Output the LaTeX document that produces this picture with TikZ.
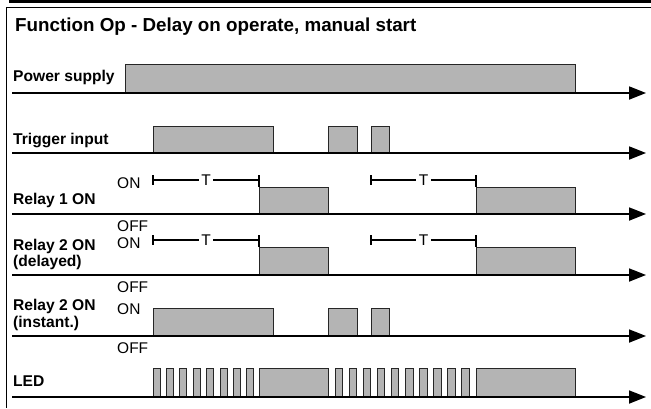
\documentclass[tikz,border=0pt]{standalone}
\usepackage{fontspec}
\setmainfont{Liberation Sans}
\usetikzlibrary{arrows.meta}
\definecolor{sigfill}{RGB}{180,180,180}

\begin{document}
\begin{tikzpicture}[x=1pt, y=-1pt, >={Stealth[length=17pt,width=13pt,inset=0pt]},
    lbl/.style={anchor=base west, inner sep=0pt, font=\fontsize{15.6}{18}\selectfont\bfseries},
    state/.style={anchor=west, inner sep=0pt, font=\fontsize{15.5}{18}\selectfont},
    tlbl/.style={inner sep=2.5pt, font=\fontsize{15.5}{18}\selectfont},
    pulse/.style={draw=black!85, line width=1pt, fill=sigfill},
    axis/.style={line width=1.8pt, ->}]
                \useasboundingbox (0,0) rectangle (651,408);

                % Define the coordinates
                \coordinate (PS0) at (12,93);  \coordinate (PS1) at (646,93);
                \coordinate (TI0) at (12,153); \coordinate (TI1) at (646,153);
                \coordinate (RA0) at (12,214); \coordinate (RA1) at (646,214);
                \coordinate (RB0) at (12,275); \coordinate (RB1) at (646,275);
                \coordinate (RC0) at (12,336); \coordinate (RC1) at (646,336);
                \coordinate (LD0) at (12,397); \coordinate (LD1) at (646,397);

                % Draw the frame
                \fill (9,0) rectangle (651,3);
                \draw[line width=1.2pt] (651,7.5) -- (6.5,7.5) -- (6.5,408);

                % Draw the title and the labels
                \node[lbl, font=\fontsize{18.8}{22}\selectfont\bfseries] (title) at (15,31.5)
                {Function Op - Delay on operate, manual start};
                \node[lbl] (ps) at (13,81) {Power supply};
                \node[lbl] (trig) at (13,144) {Trigger input};
                \node[lbl] (relA) at (13,204) {Relay 1 ON};
                \node[lbl] (relB) at (13,250) {Relay 2 ON};
                \node[lbl] (relBd) at (13,266) {(delayed)};
                \node[lbl] (relC) at (13,310) {Relay 2 ON};
                \node[lbl] (relCi) at (13,327) {(instant.)};
                \node[lbl] (led) at (13,386) {LED};

                % Draw the ON / OFF states
                \node[state] (onA) at (117,183) {ON};
                \node[state] (offA) at (117,226) {OFF};
                \node[state] (onB) at (117,243) {ON};
                \node[state] (offB) at (117,287) {OFF};
                \node[state] (onC) at (117,309) {ON};
                \node[state] (offC) at (117,348) {OFF};

                % Draw the signals
                \draw[pulse] (125,93) rectangle (575,64);
                \draw[pulse] (153,153) rectangle (273,126);
                \draw[pulse] (328,153) rectangle (357,126);
                \draw[pulse] (371,153) rectangle (389,126);
                \draw[pulse] (259,214) rectangle (328,187);
                \draw[pulse] (476,214) rectangle (575,187);
                \draw[pulse] (259,275) rectangle (328,247);
                \draw[pulse] (476,275) rectangle (575,247);
                \draw[pulse] (153,336) rectangle (273,308);
                \draw[pulse] (328,336) rectangle (357,308);
                \draw[pulse] (371,336) rectangle (389,308);

                % Draw the LED blinking
                \foreach \i in {0,...,7}
                  \draw[pulse] ({153+13.4*\i},397) rectangle ++(7,-29);
                \draw[pulse] (259,397) rectangle (328,368);
                \foreach \i in {0,...,9}
                  \draw[pulse] ({335+14.1*\i},397) rectangle ++(7.5,-29);
                \draw[pulse] (476,397) rectangle (575,368);

                % Draw the time axes
                \draw[axis] (PS0) -- (PS1);
                \draw[axis] (TI0) -- (TI1);
                \draw[axis] (RA0) -- (RA1);
                \draw[axis] (RB0) -- (RB1);
                \draw[axis] (RC0) -- (RC1);
                \draw[axis] (LD0) -- (LD1);

                % Draw the delay T
                \foreach \xa/\xb/\y/\yb/\n in {153/259/180/187/1, 371/476/180/187/2,
                    153/259/240/247/3, 371/476/240/247/4} {
                  \node[tlbl] (T\n) at ({(\xa+\xb)/2},\y) {T};
                  \coordinate (T\n L) at (\xa,\y);
                  \coordinate (T\n R) at (\xb,\y);
                  \draw[line width=1.2pt] (T\n L) -- (T\n) -- (T\n R);
                  \draw[line width=1.2pt] (\xa,\y-5) -- (\xa,\y+5);
                  \draw[line width=1.2pt] (\xb,\y-5) -- (\xb,\yb);
                }
              \end{tikzpicture}
\end{document}
